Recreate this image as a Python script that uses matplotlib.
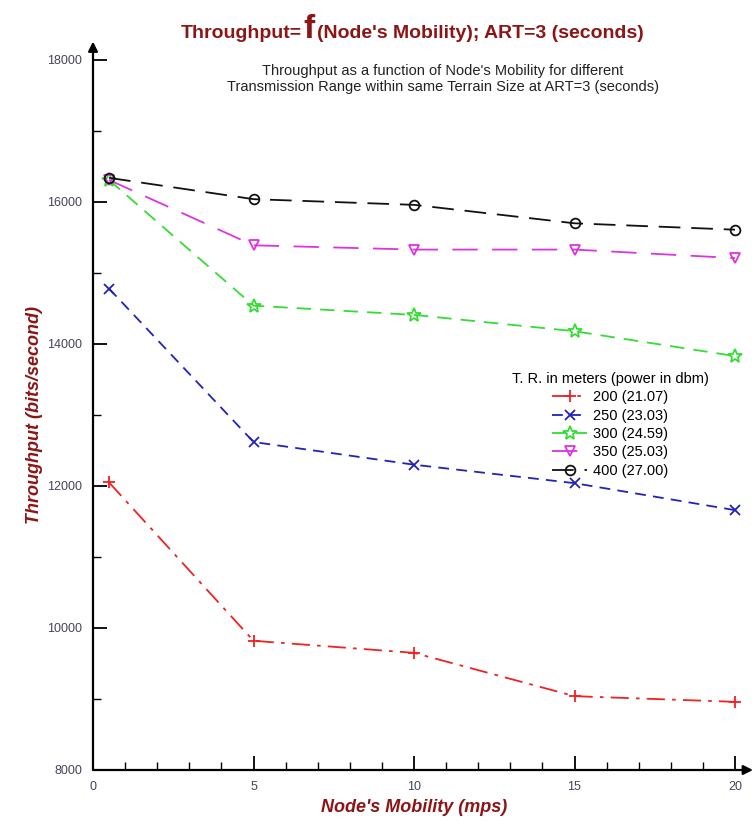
import matplotlib
matplotlib.use('Agg')
import matplotlib.pyplot as plt
from matplotlib.ticker import MultipleLocator

plt.rcParams['font.family'] = ['Liberation Sans', 'DejaVu Sans']

# node's mobility (mps)
mobility = [0.5, 5, 10, 15, 20]

# throughput (bits/second) per transmission range
tr_200 = [12050, 9820, 9650, 9040, 8960]
tr_250 = [14780, 12620, 12300, 12040, 11660]
tr_300 = [16310, 14540, 14410, 14180, 13830]
tr_350 = [16310, 15390, 15330, 15330, 15210]
tr_400 = [16340, 16040, 15960, 15700, 15610]

labels = ['200 (21.07)', '250 (23.03)', '300 (24.59)', '350 (25.03)', '400 (27.00)']
y_ticks = [8000, 10000, 12000, 14000, 16000, 18000]
x_ticks = [0, 5, 10, 15, 20]

dark_red = '#8c1515'

fig = plt.figure(figsize=(7.56, 8.27), dpi=100)
ax = fig.add_axes([93 / 756, 57 / 827, 642 / 756, 710 / 827])

series = [
  (tr_200, '#ee2222', (0, (10, 4, 2, 4)), '+', 9),
  (tr_250, '#2222bb', (0, (6, 4)), 'x', 7),
  (tr_300, '#33dd33', (0, (8, 5)), '*', 10),
  (tr_350, '#dd33dd', (0, (14, 8)), 'v', 7),
  (tr_400, '#111111', (0, (12, 6)), 'o', 7),
]
for (vals, color, ls, marker, ms), label in zip(series, labels):
  ax.plot(mobility, vals, color=color, linestyle=ls, linewidth=1.3,
          marker=marker, markersize=ms, markerfacecolor='none',
          markeredgecolor=color, markeredgewidth=1.3, label=label, clip_on=False)

ax.set_xlim(0, 20)
ax.set_ylim(8000, 18000)

# axes drawn as arrows, no box
for side in ['top', 'right', 'left', 'bottom']:
  ax.spines[side].set_visible(False)
ax.annotate('', xy=(0, 1.026), xytext=(0, 0), xycoords='axes fraction',
            arrowprops=dict(arrowstyle='-|>', lw=1.6, color='black', shrinkA=0, shrinkB=0,
                            mutation_scale=14), annotation_clip=False)
ax.annotate('', xy=(1.028, 0), xytext=(0, 0), xycoords='axes fraction',
            arrowprops=dict(arrowstyle='-|>', lw=1.6, color='black', shrinkA=0, shrinkB=0,
                            mutation_scale=14), annotation_clip=False)

ax.set_xticks(x_ticks)
ax.set_xticklabels([str(t) for t in x_ticks])
ax.xaxis.set_minor_locator(MultipleLocator(1))
ax.set_yticks(y_ticks)
ax.set_yticklabels([str(t) for t in y_ticks])
ax.yaxis.set_minor_locator(MultipleLocator(1000))
ax.tick_params(axis='both', which='major', direction='in', length=10, width=1.3,
               labelsize=9, labelcolor='#44445a', pad=8)
ax.tick_params(axis='both', which='minor', direction='in', length=6, width=1.0)

ax.set_ylabel('Throughput (bits/second)', color=dark_red, fontsize=13,
              fontweight='bold', style='italic', labelpad=3)
ax.set_xlabel("Node's Mobility (mps)", color=dark_red, fontsize=13,
              fontweight='bold', style='italic', labelpad=4)

ax.legend(loc='upper right', bbox_to_anchor=(0.975, 0.575), frameon=False,
          fontsize=10.5, title='T. R. in meters (power in dbm)', title_fontsize=10.5,
          handlelength=2.4, labelspacing=0.3, borderpad=0.2, handletextpad=0.4)

# title: Throughput=f(Node's Mobility); ART=3 (seconds), with a big 'f'
title_y = 1 - 33 / 827
t1 = fig.text(0, title_y, 'Throughput=', ha='left', va='center',
              fontsize=14, fontweight='bold', color=dark_red)
t2 = fig.text(0, 1 - 30 / 827, 'f', ha='left', va='center',
              fontsize=24, fontweight='bold', color=dark_red)
t3 = fig.text(0, title_y, "(Node's Mobility); ART=3 (seconds)", ha='left',
              va='center', fontsize=14, fontweight='bold', color=dark_red)
renderer = fig.canvas.get_renderer()
widths = [t.get_window_extent(renderer).width for t in (t1, t2, t3)]
gap = 2
x = 412 - (sum(widths) + 2 * gap) / 2
for t, w in zip((t1, t2, t3), widths):
  t.set_x(x / 756)
  x += w + gap

fig.text(443 / 756, 1 - 79 / 827,
         "Throughput as a function of Node's Mobility for different\n"
         "Transmission Range within same Terrain Size at ART=3 (seconds)",
         ha='center', va='center', fontsize=10.5, color='#222222', linespacing=1.2)

plt.savefig('out.png', dpi=100)
plt.close()
